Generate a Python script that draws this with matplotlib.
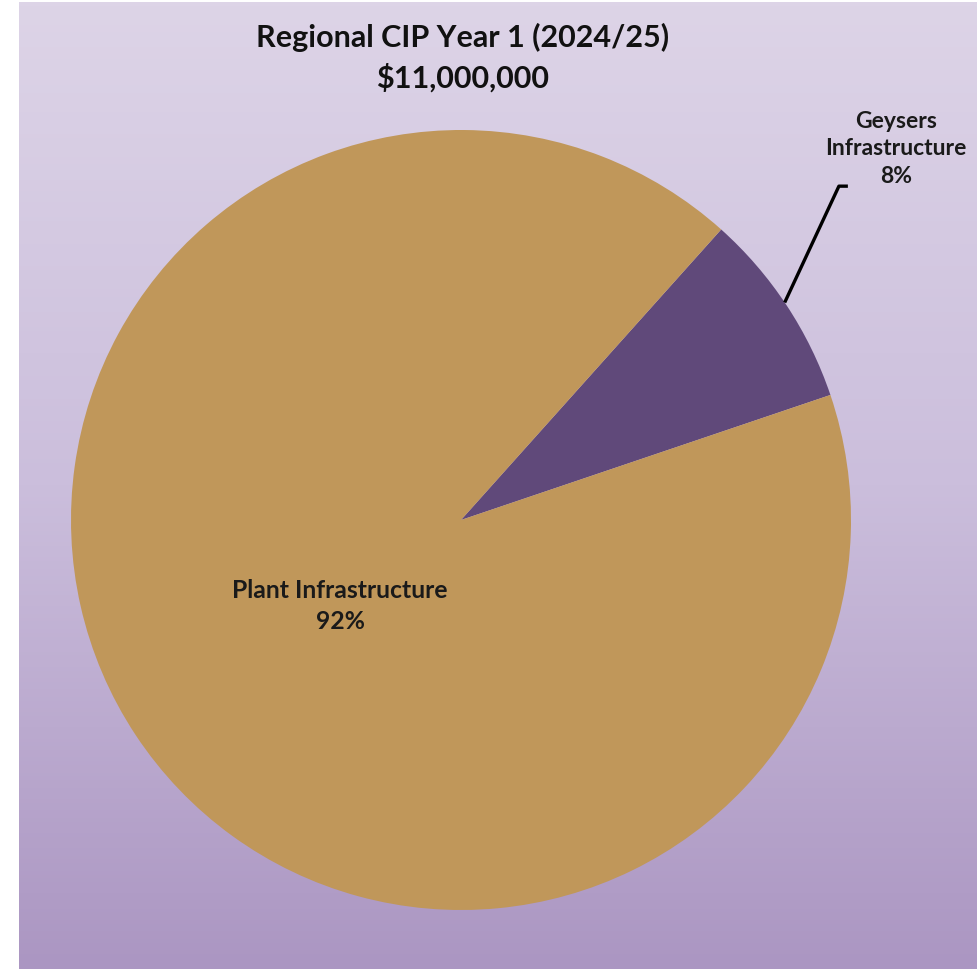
import matplotlib
matplotlib.use("Agg")
import matplotlib.pyplot as plt
import numpy as np
from matplotlib.colors import LinearSegmentedColormap

# data
categories = ["Geysers\nInfrastructure", "Plant Infrastructure"]
amounts = [900000, 10100000]
colors = ["#60497a", "#c0975a"]
title_line1 = "Regional CIP Year 1 (2024/25)"
title_line2 = "$11,000,000"

plt.rcParams['font.family'] = ['Lato', 'DejaVu Sans']

W, H = 977, 970
fig = plt.figure(figsize=(W / 100, H / 100), dpi=100)
fig.patch.set_facecolor("white")

# gradient background panel (white strip on the left and top)
bg = fig.add_axes([19 / W, 0, (W - 19) / W, (H - 3) / H])
bg.set_axis_off()
grad = np.linspace(0, 1, 256).reshape(-1, 1)
cmap = LinearSegmentedColormap.from_list("bg", ["#ddd4e7", "#cbbedc", "#ab96c2"])
bg.imshow(grad, aspect="auto", cmap=cmap, extent=[0, 1, 0, 1], origin="upper")

# pie axes: square of 800 px centred on (461, 521)
cx, cy, half = 461, 521, 400
ax = fig.add_axes([(cx - half) / W, (H - cy - half) / H, 2 * half / W, 2 * half / H])
ax.set_axis_off()
r = 390 / half
total = sum(amounts)
wedges, _ = ax.pie(amounts, colors=colors, startangle=18.7, radius=1.0,
                   wedgeprops=dict(linewidth=0))
ax.set_xlim(-1 / r, 1 / r)
ax.set_ylim(-1 / r, 1 / r)
ax.set_aspect("auto")

pcts = [round(a / total * 100) for a in amounts]

# Plant label inside the slice
ax.text(-0.310, -0.218, "%s\n%d%%" % (categories[1], pcts[1]), ha="center", va="center",
        fontsize=17.8, fontweight="bold", color="#1a1a1a", linespacing=1.45)

# Geysers label outside with leader line
t = np.deg2rad(33.9)
px, py = np.cos(t), np.sin(t)
ax.plot([px, 0.969, 0.992], [py, 0.856, 0.856], color="black", lw=2.4,
        solid_capstyle="butt", clip_on=False)
ax.text(1.116, 0.954, "%s\n%d%%" % (categories[0], pcts[0]), ha="center", va="center",
        fontsize=16.5, fontweight="bold", color="#1a1a1a", linespacing=1.38)

fig.text(463 / W, 1 - 58 / H, title_line1 + "\n" + title_line2, ha="center", va="center",
         fontsize=22, fontweight="bold", color="#111111", linespacing=1.45)

fig.savefig("out.png", dpi=100)
